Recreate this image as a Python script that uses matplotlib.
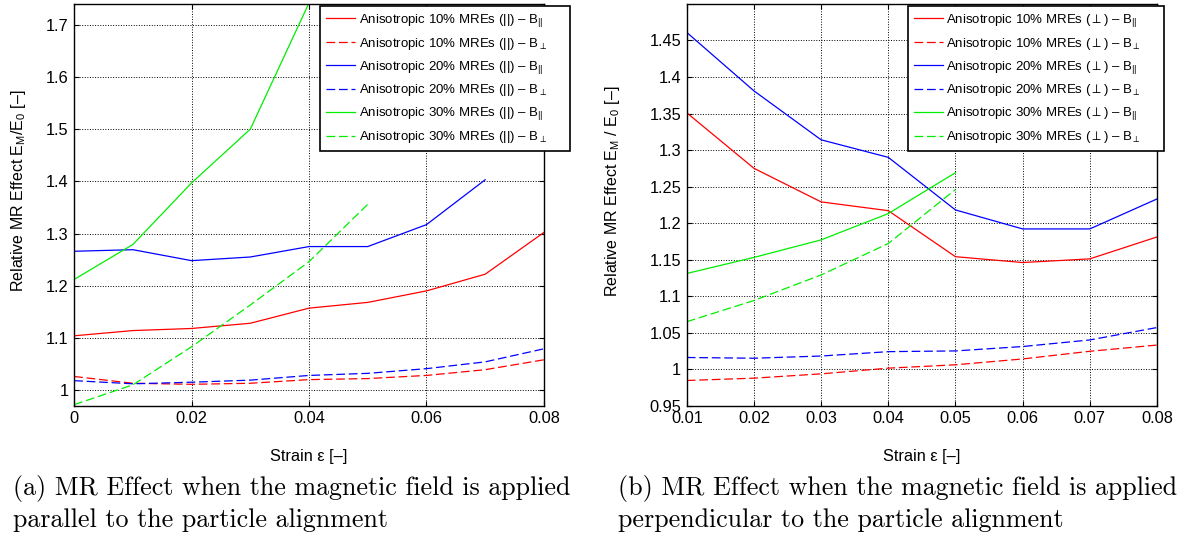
import matplotlib
matplotlib.use('Agg')
import matplotlib.pyplot as plt

plt.rcParams['font.family'] = ['Liberation Sans', 'DejaVu Sans']
plt.rcParams['mathtext.fontset'] = 'custom'
plt.rcParams['mathtext.rm'] = 'Liberation Sans'
plt.rcParams['mathtext.it'] = 'Liberation Sans'

# (a) field parallel to the particle alignment
strain_a = [0, 0.01, 0.02, 0.03, 0.04, 0.05, 0.06, 0.07, 0.08]
a10_par = [1.104, 1.114, 1.118, 1.128, 1.157, 1.168, 1.190, 1.222, 1.302]
a10_perp = [1.026, 1.013, 1.011, 1.013, 1.020, 1.022, 1.028, 1.039, 1.058]
a20_par = [1.266, 1.269, 1.248, 1.255, 1.275, 1.275, 1.317, 1.403]
a20_perp = [1.018, 1.012, 1.015, 1.019, 1.028, 1.032, 1.041, 1.054, 1.079]
a30_par = [1.212, 1.279, 1.397, 1.500, 1.742]
a30_perp = [0.972, 1.010, 1.083, 1.163, 1.246, 1.356]

# (b) field perpendicular to the particle alignment
strain_b = [0.01, 0.02, 0.03, 0.04, 0.05, 0.06, 0.07, 0.08]
b10_par = [1.351, 1.275, 1.229, 1.217, 1.154, 1.146, 1.151, 1.181]
b10_perp = [0.9845, 0.9877, 0.9936, 1.0014, 1.006, 1.014, 1.0245, 1.033]
b20_par = [1.461, 1.381, 1.314, 1.290, 1.218, 1.192, 1.192, 1.233]
b20_perp = [1.016, 1.015, 1.018, 1.024, 1.025, 1.031, 1.040, 1.057]
b30_par = [1.131, 1.153, 1.177, 1.213, 1.269]
b30_perp = [1.065, 1.094, 1.129, 1.172, 1.246]

fig = plt.figure(figsize=(11.79, 5.40), dpi=100)
ax1 = fig.add_axes([0.0629, 0.2487, 0.3984, 0.744])
ax2 = fig.add_axes([0.5825, 0.2487, 0.3988, 0.744])

dash = (0, (7, 3))
pad_txt = '     '


def draw(ax, x, s10p, s10n, s20p, s20n, s30p, s30n, tag):
    lab = 'Anisotropic %d%% MREs (' + tag + ') \u2013 B'
    ax.plot(x[:len(s10p)], s10p, color='red', lw=0.9, label=lab % 10 + r'$_{||}$' + pad_txt)
    ax.plot(x[:len(s10n)], s10n, color='red', lw=0.9, ls=dash, label=lab % 10 + r'$_{\perp}$' + pad_txt)
    ax.plot(x[:len(s20p)], s20p, color='blue', lw=0.9, label=lab % 20 + r'$_{||}$' + pad_txt)
    ax.plot(x[:len(s20n)], s20n, color='blue', lw=0.9, ls=dash, label=lab % 20 + r'$_{\perp}$' + pad_txt)
    ax.plot(x[:len(s30p)], s30p, color='#00ee00', lw=0.9, label=lab % 30 + r'$_{||}$' + pad_txt)
    ax.plot(x[:len(s30n)], s30n, color='#00ee00', lw=0.9, ls=dash, label=lab % 30 + r'$_{\perp}$' + pad_txt)
    ax.grid(True, color='black', ls=':', lw=0.7)
    ax.tick_params(direction='in', top=True, right=True, labelsize=11.8, pad=4)
    for sp in ax.spines.values():
        sp.set_linewidth(1.0)
    ax.set_xlabel('Strain \u03b5 [\u2013]', fontsize=11.8)
    ax.xaxis.set_label_coords(0.5, -0.107)


draw(ax1, strain_a, a10_par, a10_perp, a20_par, a20_perp, a30_par, a30_perp, '||')
draw(ax2, strain_b, b10_par, b10_perp, b20_par, b20_perp, b30_par, b30_perp, r'$\perp$')

ax1.set_xlim(0, 0.08)
ax1.set_ylim(0.97, 1.74)
ax1.set_xticks([0, 0.02, 0.04, 0.06, 0.08])
ax1.set_xticklabels(['0', '0.02', '0.04', '0.06', '0.08'])
ax1.set_yticks([1.0, 1.1, 1.2, 1.3, 1.4, 1.5, 1.6, 1.7])
ax1.set_yticklabels(['1', '1.1', '1.2', '1.3', '1.4', '1.5', '1.6', '1.7'])
ax1.set_ylabel('Relative MR Effect E$_\\mathrm{M}$/E$_0$ [\u2013]', fontsize=11.5)
ax1.yaxis.set_label_coords(-0.098, 0.534)

ax2.set_xlim(0.01, 0.08)
ax2.set_ylim(0.95, 1.5)
ax2.set_xticks([0.01, 0.02, 0.03, 0.04, 0.05, 0.06, 0.07, 0.08])
ax2.set_yticks([0.95, 1.0, 1.05, 1.1, 1.15, 1.2, 1.25, 1.3, 1.35, 1.4, 1.45])
ax2.set_yticklabels(['0.95', '1', '1.05', '1.1', '1.15', '1.2', '1.25', '1.3', '1.35', '1.4', '1.45'])
ax2.set_ylabel('Relative MR Effect E$_\\mathrm{M}$ / E$_0$ [\u2013]', fontsize=11.5)
ax2.yaxis.set_label_coords(-0.138, 0.534)

for ax, x0 in [(ax1, 0.524), (ax2, 0.4704)]:
    leg = ax.legend(loc='upper left', bbox_to_anchor=(x0, 0.995), fontsize=9.5,
                    handlelength=2.2, handletextpad=0.25, labelspacing=0.52,
                    fancybox=False, framealpha=1, edgecolor='black',
                    borderpad=0.45, borderaxespad=0)
    leg.get_frame().set_linewidth(1.2)
    leg.set_zorder(5)

cap = dict(fontsize=18.7, family=['cmr10', 'DejaVu Serif'], va='center', ha='left')
fig.text(0.011, 0.096, '(a) MR Effect when the magnetic field is applied', **cap)
fig.text(0.011, 0.036, 'parallel to the particle alignment', **cap)
fig.text(0.524, 0.096, '(b) MR Effect when the magnetic field is applied', **cap)
fig.text(0.524, 0.036, 'perpendicular to the particle alignment', **cap)

plt.savefig('out.png', dpi=100)
